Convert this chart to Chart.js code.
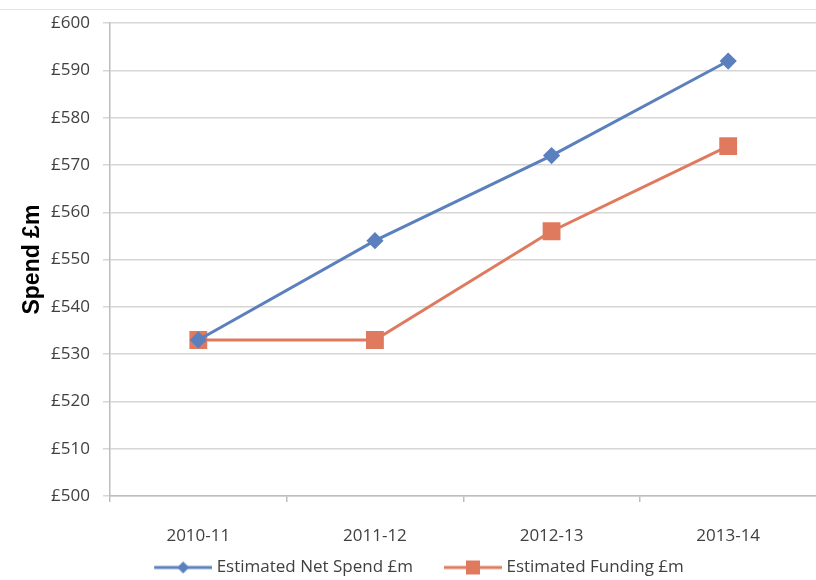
<!DOCTYPE html>
<html lang="en">
<head>
  <meta charset="UTF-8" />
  <title>Estimated Net Spend and Funding</title>
  <script src="https://cdn.jsdelivr.net/npm/chart.js"></script>
  <style>
    html, body { margin: 0; padding: 0; background: #fff; overflow: hidden; }
    #wrap { position: relative; width: 830px; height: 580px; }
    #wrap::before { content: ''; position: absolute; left: 0; right: 0; top: 9px; border-top: 1px solid #e2e2e2; }
  </style>
</head>
<body>
  <div id="wrap"><canvas id="spendChart" width="830" height="580"></canvas></div>

  <script>
    // data
    const years = ['2010-11', '2011-12', '2012-13', '2013-14'];
    const netSpend = [533, 554, 572, 592];
    const funding = [533, 533, 556, 574];
    const yMin = 500, yMax = 600, yStep = 10;

    const blue = '#5B80BD';
    const orange = '#E07A5E';
    const textColor = '#404040';
    const gridColor = '#d6d6d6';
    const axisColor = '#bdbdbd';

    // legend swatch: line with marker; canvas is wider than the box so the
    // line sits close to its text and the items keep a gap between them
    function legendIcon(color, shape) {
      const lineStart = 31, w = 58;
      const c = document.createElement('canvas');
      c.width = lineStart + w; c.height = 20;
      const ctx = c.getContext('2d');
      ctx.strokeStyle = color;
      ctx.lineWidth = 3;
      ctx.beginPath();
      ctx.moveTo(lineStart, 10);
      ctx.lineTo(lineStart + w, 10);
      ctx.stroke();
      ctx.fillStyle = color;
      const cx = lineStart + w / 2;
      ctx.beginPath();
      if (shape === 'diamond') {
        ctx.moveTo(cx, 4); ctx.lineTo(cx + 6, 10); ctx.lineTo(cx, 16); ctx.lineTo(cx - 6, 10);
      } else {
        ctx.rect(cx - 7, 3, 14, 14);
      }
      ctx.closePath();
      ctx.fill();
      return c;
    }
    const icons = [legendIcon(blue, 'diamond'), legendIcon(orange, 'square')];

    const font = { family: '"Open Sans", sans-serif', size: 17 };

    new Chart(document.getElementById('spendChart'), {
      type: 'line',
      data: {
        labels: years,
        datasets: [{
          label: 'Estimated Net Spend £m',
          data: netSpend,
          borderColor: blue,
          backgroundColor: blue,
          borderWidth: 3,
          pointStyle: 'rectRot',
          pointRadius: 6.5,
          pointHoverRadius: 6.5,
          tension: 0
        }, {
          label: 'Estimated Funding £m',
          data: funding,
          borderColor: orange,
          backgroundColor: orange,
          borderWidth: 3,
          pointStyle: 'rect',
          pointRadius: 10.5,
          pointHoverRadius: 10.5,
          tension: 0
        }]
      },
      options: {
        responsive: false,
        animation: false,
        layout: { padding: { top: 7, left: -10, right: 9, bottom: -6 } },
        plugins: {
          tooltip: { enabled: false },
          legend: {
            position: 'bottom',
            labels: {
              usePointStyle: true,
              pointStyleWidth: 81,
              padding: 4,
              color: textColor,
              font: font,
              generateLabels(chart) {
                const items = Chart.defaults.plugins.legend.labels.generateLabels(chart);
                items.forEach((it, i) => { it.pointStyle = icons[i]; });
                return items;
              }
            }
          }
        },
        scales: {
          x: {
            offset: true,
            afterFit(scale) { scale.height = 59; },
            grid: { display: true, drawOnChartArea: false, offset: true, tickLength: 6, color: axisColor, lineWidth: 1.5 },
            border: { color: axisColor, width: 1.5 },
            ticks: { color: textColor, font: font, padding: 24 }
          },
          y: {
            min: yMin,
            max: yMax,
            afterFit(scale) { scale.width = 120; },
            grid: { color: gridColor, lineWidth: 1.5, tickLength: 7 },
            border: { color: axisColor, width: 1.5 },
            ticks: {
              stepSize: yStep,
              color: textColor,
              font: font,
              padding: 13,
              callback: v => '£' + v
            },
            title: {
              display: true,
              text: 'Spend £m',
              color: '#000',
              font: { family: '"Liberation Sans", Arial, sans-serif', size: 23, weight: 'bold' },
              padding: { top: 29, bottom: 0 }
            }
          }
        }
      }
    });
  </script>
</body>
</html>
